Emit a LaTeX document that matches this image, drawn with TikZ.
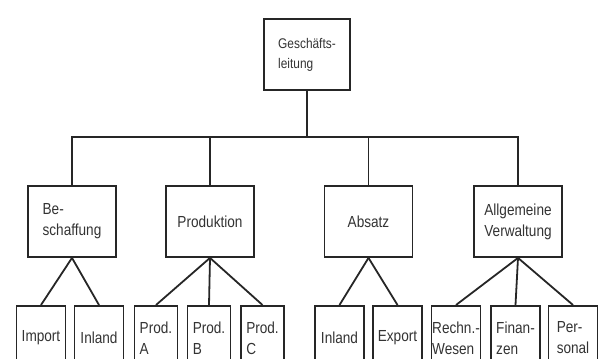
\documentclass[tikz,border=0pt]{standalone}
\usepackage{fontspec}
\setmainfont[FakeStretch=0.85]{Liberation Sans}
\usetikzlibrary{positioning}

\begin{document}
\begin{tikzpicture}[
      x=0.5pt,
      y=-0.5pt,
      kasten/.style={
        draw=black!85,
        line width=0.9pt,
        align=left,
        text=black!80,
        inner sep=0pt
      },
      leitung/.style={
        kasten,
        minimum width=43pt,
        minimum height=35.5pt,
        font=\fontsize{7}{10}\selectfont
      },
      bereich/.style={
        kasten,
        minimum width=44pt,
        minimum height=35.5pt,
        font=\fontsize{8}{10.5}\selectfont
      },
      stelle/.style={
        kasten,
        anchor=north,
        minimum width=24.5pt,
        minimum height=32pt,
        font=\fontsize{8}{10.5}\selectfont
      },
      schmal/.style={
        minimum width=21.5pt
      },
      linie/.style={
        draw=black!85,
        line width=0.9pt
      }
    ]
    \useasboundingbox (0,0) rectangle (598,358);
    \clip (0,0) rectangle (598,358);

    % Leitung und Bereiche
    \node[leitung] (gl) at (307,54.5) {Geschäfts-\\leitung};
    \node[bereich] (besch) at (72,221.5) {Be-\\schaffung};
    \node[bereich] (prod) at (210,221.5) {Produktion};
    \node[bereich] (abs) at (368.5,221.5) {Absatz};
    \node[bereich] (verw) at (518,221.5) {Allgemeine\\Verwaltung};

    % Stellen
    \node[stelle] (import) at (41,305) {Import};
    \node[stelle] (inland1) at (99,305) {Inland};
    \node[stelle, schmal] (proda) at (156,305) {Prod.\\A};
    \node[stelle, schmal] (prodb) at (209,305) {Prod.\\B};
    \node[stelle, schmal] (prodc) at (262.5,305) {Prod.\\C};
    \node[stelle] (inland2) at (339.5,305) {Inland};
    \node[stelle] (export) at (397.5,305) {Export};
    \node[stelle] (rechn) at (456,305) {Rechn.-\\Wesen};
    \node[stelle] (finanz) at (515.5,305) {Finan-\\zen};
    \node[stelle] (person) at (573,305) {Per-\\sonal};

    \coordinate (bus) at (307,137);

    \draw[linie] (gl.south) -- (bus);
    \draw[linie] (besch.north) -- (besch.north |- bus) -- (verw.north |- bus) -- (verw.north);
    \draw[linie] (prod.north) -- (prod.north |- bus);
    \draw[linie] (abs.north) -- (abs.north |- bus);

	\path[linie]
       (besch.south) edge (import.north) edge (inland1.north)
       (prod.south) edge (proda.north) edge (prodb.north) edge (prodc.north)
       (abs.south) edge (inland2.north) edge (export.north)
       (verw.south) edge (rechn.north) edge (finanz.north) edge (person.north) ;
  \end{tikzpicture}
\end{document}
